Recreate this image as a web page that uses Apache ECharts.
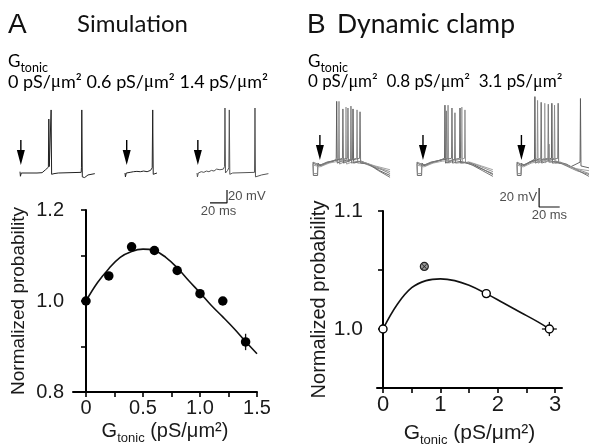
<!DOCTYPE html>
<html><head><meta charset="utf-8">
<script src="https://cdn.jsdelivr.net/npm/echarts@6/dist/echarts.min.js"></script>
<style>html,body{margin:0;padding:0;background:#fff}#c{width:589px;height:448px}</style>
</head><body><div id="c"></div>
<script>
// ---------- Panel A: simulation data ----------
const simX = [0, 0.2, 0.4, 0.6, 0.8, 1.0, 1.2, 1.4];
const simY = [1.0, 1.055, 1.119, 1.111, 1.067, 1.016, 1.0, 0.91];
const simErrY = [0, 0, 0, 0, 0, 0, 0, 0.018];
const simFitX = [0, 0.1, 0.2, 0.3, 0.4, 0.5, 0.6, 0.7, 0.8, 0.9, 1.0, 1.1, 1.2, 1.3, 1.4, 1.5];
const simFitY = [1.0, 1.040, 1.071, 1.096, 1.109, 1.114, 1.111, 1.096, 1.073, 1.045, 1.018, 0.990, 0.965, 0.939, 0.911, 0.884];
const simXTicks = [0, 0.25, 0.5, 0.75, 1.0, 1.25, 1.5];
const simXLabels = [0, 0.5, 1.0, 1.5];
const simYTicks = [0.8, 0.9, 1.0, 1.1, 1.2];
const simYLabels = [0.8, 1.0, 1.2];
const simGtonicLabels = ['0', '0.6', '1.4'];

// ---------- Panel B: dynamic clamp data ----------
const dcX = [0, 1.8, 2.9];
const dcY = [1.0, 1.030, 1.0];
const dcErrY = [0, 0, 0.006];
const dcErrX = [0, 0, 0.13];
const dcOutlier = [0.72, 1.053];
const dcFitX = [0, 0.25, 0.5, 0.75, 1.0, 1.25, 1.5, 1.8, 2.1, 2.4, 2.7, 2.9];
const dcFitY = [1.0, 1.021, 1.035, 1.041, 1.0425, 1.041, 1.037, 1.030, 1.022, 1.014, 1.006, 1.0];
const dcXTicks = [0, 0.5, 1, 1.5, 2, 2.5, 3];
const dcXLabels = [0, 1, 2, 3];
const dcYTicks = [0.95, 1.0, 1.05, 1.1];
const dcYLabels = [1.0, 1.1];
const dcGtonicLabels = ['0', '0.8', '3.1'];

// ---------- Example traces (time ms, membrane potential mV) ----------
const traceA1 = [[0,-68],[0.5,-75],[1.5,-70],[20,-70],[26,-69.5],[28,-67],[30,-65],[31,-66],[32,-64],[33.4,-61],[33.9,13],[34.5,-60],[35.6,-58],[36.6,27],[37.2,-72],[38,-74],[40,-71],[45,-70],[72,-69],[72.3,-62],[72.7,27],[73.3,-76],[76,-77],[80,-73],[88,-71]];
const traceA2 = [[0,-70],[0.5,-76],[1.5,-70],[6,-69],[10,-68],[14,-67.5],[18,-68],[22,-67],[26,-68],[30,-66],[32,-62],[32.6,27],[33.2,-72],[35,-71],[37.6,-70]];
const traceA3 = [[0,-70],[0.5,-76],[1.5,-70],[5,-68],[8,-69],[11,-67],[14,-68],[17,-66],[20,-67],[23,-64],[25,-62],[27,-65],[29,-67],[31,-64],[32.4,-60],[32.9,30],[33.5,-70],[36,-66],[37.5,-62],[38,27],[38.6,-72],[42,-70],[67.7,-69],[68.2,30],[68.8,-76],[71,-77],[76,-73],[84,-71]];
const durA = [88, 38, 84];
const stimA = [1, 2, 1];

const sweepsB1 = [
  [[0,-62],[0.3,-76],[4,-76],[4.3,-63],[7,-66],[12,-63],[18,-61],[20.2,-58],[20.6,2],[21.1,-63],[25,-61],[34.4,-59],[34.8,-6],[35.3,-63],[42,-61],[50,-65],[58,-71],[67,-76]],
  [[0,-64],[0.4,-74],[3.8,-74],[4.2,-64],[8,-65],[14,-62],[22.2,-59],[22.6,2],[23.1,-64],[30,-60],[37.9,-58],[38.3,-7],[38.8,-63],[46,-63],[55,-67],[67,-72]],
  [[0,-63],[5,-66],[12,-62],[20,-60],[25.6,-58],[26,-6],[26.5,-63],[33,-60],[40.5,-58],[40.9,-9],[41.4,-63],[48,-64],[57,-71],[67,-78]],
  [[0,-65],[6,-67],[14,-63],[22,-61],[28.3,-59],[28.7,-4],[29.2,-64],[36,-61],[44,-62],[54,-66],[67,-70]],
  [[0,-62],[6,-65],[13,-62],[20,-60],[30,-58],[30.4,-5],[30.9,-62],[32.6,-59],[33,-3],[33.5,-63],[40,-61],[50,-66],[60,-70],[67,-74]]
];
const sweepsB2 = [
  [[0,-62],[0.3,-76],[4,-76],[4.3,-63],[7,-66],[12,-63],[18,-61],[23.9,-58],[24.3,-2],[24.8,-63],[30,-60],[37,-58],[37.4,-5],[37.9,-63],[45,-62],[55,-68],[66,-75]],
  [[0,-64],[0.4,-74],[3.8,-74],[4.2,-64],[8,-65],[14,-62],[20,-60],[26.6,-58],[27,-2],[27.5,-63],[34,-60],[41.3,-58],[41.7,-7],[42.2,-63],[50,-64],[66,-72]],
  [[0,-63],[5,-66],[12,-62],[20,-60],[30,-58],[30.4,-5],[30.9,-63],[38,-61],[48,-65],[57,-71],[66,-77]],
  [[0,-65],[6,-67],[14,-63],[22,-61],[30,-60],[38.6,-58],[39,-4],[39.5,-63],[46,-62],[56,-66],[66,-70]],
  [[0,-62],[6,-65],[13,-62],[20,-60],[25.1,-58],[25.5,-8],[26,-63],[32.6,-59],[33,-10],[33.5,-63],[42,-62],[52,-67],[66,-74]]
];
const sweepsB3 = [
  [[0,-62],[0.3,-76],[4,-76],[4.3,-63],[7,-66],[12,-62],[17,-59],[17.4,7],[17.9,-63],[24,-60],[33.5,-58],[33.9,0],[34.4,-63],[42,-62],[52,-67],[61.3,-62],[61.7,5],[62.2,-66],[70,-68]],
  [[0,-64],[0.4,-74],[3.8,-74],[4.2,-64],[8,-65],[14,-62],[19.6,-58],[20,3],[20.5,-63],[28,-60],[36.1,-58],[36.5,-2],[37,-63],[45,-63],[55,-68],[70,-74]],
  [[0,-63],[5,-66],[12,-62],[18,-60],[23.1,-58],[23.5,1],[24,-63],[32,-60],[39.6,-58],[40,0],[40.5,-63],[48,-64],[58,-70],[70,-77]],
  [[0,-65],[6,-67],[14,-63],[22,-61],[26.6,-58],[27,0],[27.5,-63],[30.9,-59],[31.3,-43],[31.8,-62],[38,-61],[48,-65],[58,-69],[70,-71]],
  [[0,-62],[6,-65],[13,-62],[20,-60],[30,-58],[30.4,-1],[30.9,-62],[38,-61],[48,-66],[58,-71],[70,-75]]
];
const durB = [67, 66, 70];
const stimB = [6, 5.2, 4.3];
const sweepColors = ['#555', '#888', '#666', '#999', '#777'];

// scale bars (ms, mV)
const scaleBarA = [[15.3, -116], [35.3, -116], [35.3, -96]];
const scaleBarB = [[21.5, -89.2], [21.5, -109.2], [41.5, -109.2]];

// ---------- layout ----------
const AX = '"Liberation Sans", Arial, sans-serif';
const TX = 'Lato, "Open Sans", sans-serif';
const pxMsA = 0.85, pxMvA = 0.65, pxMsB = 1.15, pxMvB = 0.95;
const leftA = [20, 125, 197], leftB = [313, 417, 517];
const yRangeA = [-130, 40], yRangeB = [-115, 15];
const topA = 101.5, topB = 89;

const grids = [
  {left: 73, top: 210, width: 184, height: 182},
  {left: 377, top: 211, width: 185, height: 184}
];
const xAxes = [], yAxes = [], series = [];

const axisLineStyle = {color: '#000', width: 2};
const tickStyle = {color: '#000', width: 1.6};

xAxes.push({
  gridIndex: 0, type: 'value', min: -0.114, max: 1.5,
  axisLine: {show: true, lineStyle: axisLineStyle},
  axisTick: {show: true, customValues: simXTicks, length: 5, lineStyle: tickStyle},
  axisLabel: {customValues: simXLabels, margin: 6, fontSize: 20, fontFamily: AX, color: '#1a1a1a',
    formatter: v => v === 0 ? '0' : v.toFixed(1)},
  splitLine: {show: false},
  name: '{g|G}{s|tonic}{g| (pS/μm²)}', nameLocation: 'middle', nameGap: 26,
  nameTextStyle: {fontFamily: AX, color: '#1a1a1a', rich: {
    g: {fontSize: 20, fontFamily: AX, color: '#1a1a1a', lineHeight: 24},
    s: {fontSize: 13, fontFamily: AX, color: '#1a1a1a', padding: [14, 0, 0, 0]}}}
});
yAxes.push({
  gridIndex: 0, type: 'value', min: 0.8, max: 1.2, offset: 5,
  axisLine: {show: true, lineStyle: axisLineStyle},
  axisTick: {show: true, customValues: simYTicks, length: 5, lineStyle: tickStyle},
  axisLabel: {customValues: simYLabels, margin: 4, fontSize: 20, fontFamily: AX, color: '#1a1a1a',
    formatter: v => v.toFixed(1)},
  splitLine: {show: false},
  name: 'Normalized probability', nameLocation: 'middle', nameGap: 40,
  nameTextStyle: {fontSize: 19, fontFamily: AX, color: '#1a1a1a'}
});
xAxes.push({
  gridIndex: 1, type: 'value', min: -0.105, max: 3.12,
  axisLine: {show: true, lineStyle: axisLineStyle},
  axisTick: {show: true, customValues: dcXTicks, length: 5, lineStyle: tickStyle},
  axisLabel: {customValues: dcXLabels, margin: 6, fontSize: 22, fontFamily: AX, color: '#1a1a1a',
    formatter: v => String(v)},
  splitLine: {show: false},
  name: '{g|G}{s|tonic}{g| (pS/μm²)}', nameLocation: 'middle', nameGap: 32,
  nameTextStyle: {fontFamily: AX, color: '#1a1a1a', rich: {
    g: {fontSize: 21, fontFamily: AX, color: '#1a1a1a', lineHeight: 25},
    s: {fontSize: 13, fontFamily: AX, color: '#1a1a1a', padding: [14, 0, 0, 0]}}}
});
yAxes.push({
  gridIndex: 1, type: 'value', min: 0.95, max: 1.1, offset: 10,
  axisLine: {show: true, lineStyle: axisLineStyle},
  axisTick: {show: true, customValues: dcYTicks, length: 5, lineStyle: tickStyle},
  axisLabel: {customValues: dcYLabels, margin: 4, fontSize: 21, fontFamily: AX, color: '#1a1a1a',
    formatter: v => v.toFixed(1)},
  splitLine: {show: false},
  name: 'Normalized probability', nameLocation: 'middle', nameGap: 35,
  nameTextStyle: {fontSize: 20, fontFamily: AX, color: '#1a1a1a'}
});

function errRender(params, api) {
  const x = api.value(0), y = api.value(1), ey = api.value(2), ex = api.value(3);
  const children = [];
  const st = {stroke: '#111', lineWidth: 1.3};
  if (ey > 0) {
    const a = api.coord([x, y - ey]), b = api.coord([x, y + ey]);
    children.push({type: 'line', shape: {x1: a[0], y1: a[1], x2: b[0], y2: b[1]}, style: st});
  }
  if (ex > 0) {
    const a = api.coord([x - ex, y]), b = api.coord([x + ex, y]);
    children.push({type: 'line', shape: {x1: a[0], y1: a[1], x2: b[0], y2: b[1]}, style: st});
  }
  return {type: 'group', children};
}

// Panel A main series
series.push({type: 'line', xAxisIndex: 0, yAxisIndex: 0, data: simFitX.map((x, i) => [x, simFitY[i]]),
  smooth: 0.4, showSymbol: false, lineStyle: {color: '#111', width: 1.6}, z: 2});
series.push({type: 'custom', xAxisIndex: 0, yAxisIndex: 0,
  data: simX.map((x, i) => [x, simY[i], simErrY[i], 0]).filter(d => d[2] > 0),
  renderItem: errRender, z: 3});
series.push({type: 'scatter', xAxisIndex: 0, yAxisIndex: 0, data: simX.map((x, i) => [x, simY[i]]),
  symbol: 'circle', symbolSize: 9.5, itemStyle: {color: '#000', opacity: 1}, z: 4});

// Panel B main series
series.push({type: 'line', xAxisIndex: 1, yAxisIndex: 1, data: dcFitX.map((x, i) => [x, dcFitY[i]]),
  smooth: 0.4, showSymbol: false, lineStyle: {color: '#111', width: 1.6}, z: 2});
series.push({type: 'custom', xAxisIndex: 1, yAxisIndex: 1,
  data: dcX.map((x, i) => [x, dcY[i], dcErrY[i], dcErrX[i]]).filter(d => d[2] > 0 || d[3] > 0),
  renderItem: errRender, z: 3});
series.push({type: 'scatter', xAxisIndex: 1, yAxisIndex: 1, data: dcX.map((x, i) => [x, dcY[i]]),
  symbol: 'circle', symbolSize: 8, itemStyle: {color: '#fff', borderColor: '#000', borderWidth: 1.4, opacity: 1}, z: 4});
series.push({type: 'scatter', xAxisIndex: 1, yAxisIndex: 1, data: [dcOutlier],
  symbol: 'circle', symbolSize: 8, itemStyle: {color: '#999', borderColor: '#222', borderWidth: 1.2, opacity: 1}, z: 4});
series.push({type: 'scatter', xAxisIndex: 1, yAxisIndex: 1, data: [dcOutlier],
  symbol: 'path://M0,1 L1,0 L5,4 L9,0 L10,1 L6,5 L10,9 L9,10 L5,6 L1,10 L0,9 L4,5 Z', symbolSize: 5,
  itemStyle: {color: '#222', opacity: 1}, z: 5});

// Trace grids
const arrowPath = 'path://M3.3,0 H4.7 V10 H8 L4,25 L0,10 H3.3 Z';
function addTraceGrid(left, top, dur, pxMs, yRange, pxMv) {
  const gi = grids.length;
  grids.push({left: left, top: top, width: dur * pxMs, height: (yRange[1] - yRange[0]) * pxMv});
  xAxes.push({gridIndex: gi, type: 'value', min: 0, max: dur, show: false});
  yAxes.push({gridIndex: gi, type: 'value', min: yRange[0], max: yRange[1], show: false});
  return gi;
}
const tracesA = [traceA1, traceA2, traceA3];
const traceColorA = ['#222', '#222', '#555'];
const gA = [];
for (let i = 0; i < 3; i++) {
  const gi = addTraceGrid(leftA[i], topA, durA[i], pxMsA, yRangeA, pxMvA);
  gA.push(gi);
  series.push({type: 'line', xAxisIndex: gi, yAxisIndex: gi, data: tracesA[i], showSymbol: false,
    lineStyle: {color: traceColorA[i], width: 1}, silent: true});
  series.push({type: 'scatter', xAxisIndex: gi, yAxisIndex: gi, data: [[stimA[i], -38.5]],
    symbol: arrowPath, symbolSize: [8, 25], symbolKeepAspect: false, itemStyle: {color: '#000', opacity: 1}, silent: true});
}
const sweepsB = [sweepsB1, sweepsB2, sweepsB3];
const gB = [];
for (let i = 0; i < 3; i++) {
  const gi = addTraceGrid(leftB[i], topB, durB[i], pxMsB, yRangeB, pxMvB);
  gB.push(gi);
  sweepsB[i].forEach((sw, k) => {
    series.push({type: 'line', xAxisIndex: gi, yAxisIndex: gi, data: sw, showSymbol: false,
      lineStyle: {color: sweepColors[k], width: 0.9}, silent: true});
  });
  series.push({type: 'scatter', xAxisIndex: gi, yAxisIndex: gi, data: [[stimB[i], -46.6]],
    symbol: arrowPath, symbolSize: [8, 25], symbolKeepAspect: false, itemStyle: {color: '#000', opacity: 1}, silent: true});
}
// scale bars
series.push({type: 'line', xAxisIndex: gA[2], yAxisIndex: gA[2], data: scaleBarA, showSymbol: false,
  lineStyle: {color: '#111', width: 1.2}, silent: true});
series.push({type: 'scatter', xAxisIndex: gA[2], yAxisIndex: gA[2], symbolSize: 0, silent: true,
  data: [{value: [scaleBarA[2][0], (scaleBarA[1][1] + scaleBarA[2][1]) / 2], name: '20 mV', label: {position: 'right', distance: 1}},
         {value: [(scaleBarA[0][0] + scaleBarA[1][0]) / 2, scaleBarA[0][1]], name: '20 ms', label: {position: 'bottom', distance: 2}}],
  label: {show: true, formatter: p => p.name, fontSize: 13, fontFamily: AX, color: '#222'}});
series.push({type: 'line', xAxisIndex: gB[2], yAxisIndex: gB[2], data: scaleBarB, showSymbol: false,
  lineStyle: {color: '#111', width: 1.2}, silent: true});
series.push({type: 'scatter', xAxisIndex: gB[2], yAxisIndex: gB[2], symbolSize: 0, silent: true,
  data: [{value: [scaleBarB[0][0], (scaleBarB[0][1] + scaleBarB[1][1]) / 2], name: '20 mV', label: {position: 'left', distance: 2}},
         {value: [(scaleBarB[1][0] + scaleBarB[2][0]) / 2, scaleBarB[1][1]], name: '20 ms', label: {position: 'bottom', distance: 2}}],
  label: {show: true, formatter: p => p.name, fontSize: 13, fontFamily: AX, color: '#222'}});

// header texts
function valLine(x, y, nums, colors, sep, fs) {
  const rich = {sp: {fontSize: fs, fontFamily: TX}};
  let text = '';
  nums.forEach((n, i) => {
    rich['t' + i] = {fontSize: fs, fontFamily: TX, color: colors[i]};
    rich['m' + i] = {fontSize: fs + 1, fontFamily: '"Liberation Serif", serif', color: colors[i]};
    if (i > 0) text += '{sp|' + sep + '}';
    text += '{t' + i + '|' + n + ' pS/}{m' + i + '|μ}{t' + i + '|m²}';
  });
  return {type: 'text', x: x, y: y, style: {text: text, verticalAlign: 'middle', rich: rich}};
}
function gLabel(x, y) {
  return {type: 'text', x: x, y: y, style: {
    text: '{g|G}{s|tonic}', verticalAlign: 'middle',
    rich: {g: {fontSize: 17, fontFamily: TX, color: '#111'}, s: {fontSize: 12.5, fontFamily: TX, color: '#111', padding: [11, 0, 0, 0]}}}};
}
const graphic = [
  {type: 'text', x: 8, y: 25, style: {text: 'A', fontSize: 28, fontFamily: AX, fill: '#111', verticalAlign: 'middle'}},
  {type: 'text', x: 77, y: 24, style: {text: 'Simulation', fontSize: 24, fontFamily: TX, fill: '#111', verticalAlign: 'middle'}},
  {type: 'text', x: 307, y: 25, style: {text: 'B', fontSize: 28, fontFamily: AX, fill: '#111', verticalAlign: 'middle'}},
  {type: 'text', x: 337, y: 24, style: {text: 'Dynamic clamp', fontSize: 26.5, fontFamily: TX, fill: '#111', verticalAlign: 'middle'}},
  gLabel(8, 62), gLabel(308, 62),
  valLine(8, 82, simGtonicLabels, ['#111', '#888', '#444'], ' ', 18),
  valLine(308, 82, dcGtonicLabels, ['#111', '#888', '#333'], '  ', 17)
];

const chart = echarts.init(document.getElementById('c'), null, {renderer: 'canvas'});
chart.setOption({
  animation: false, backgroundColor: '#fff',
  grid: grids, xAxis: xAxes, yAxis: yAxes, series: series, graphic: graphic
});
</script></body></html>
